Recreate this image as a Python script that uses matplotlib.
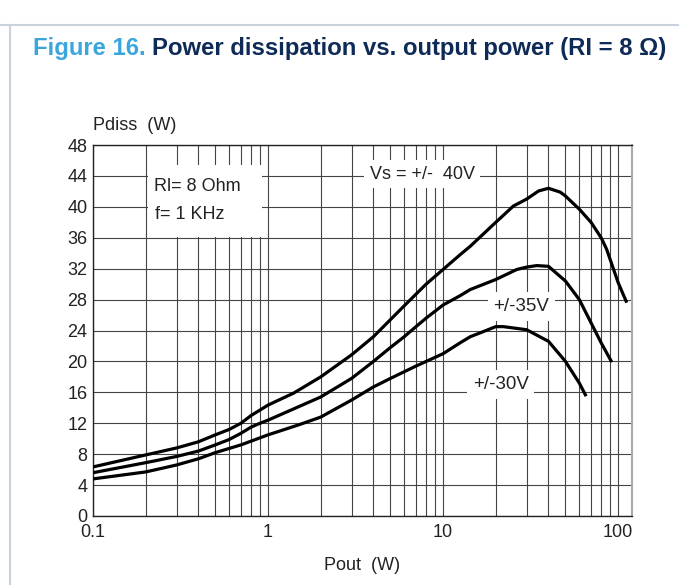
import numpy as np
import matplotlib.pyplot as plt
from matplotlib.patches import Rectangle
from matplotlib.lines import Line2D

# curves: Pout (W) -> Pdiss (W)
pout_40 = [0.1, 0.2, 0.3, 0.4, 0.5, 0.6, 0.7, 0.8, 1, 1.4, 2, 3, 4, 5, 6, 7, 8, 10,
           12.5, 14.3, 20, 25.2, 30, 35.1, 40, 46.7, 50, 60, 70, 80, 86, 90, 100, 112]
pdiss_40 = [6.35, 7.9, 8.8, 9.6, 10.5, 11.2, 12.0, 13.0, 14.35, 15.9, 18.0, 20.85, 23.2, 25.4,
            27.2, 28.7, 30.0, 31.9, 33.8, 34.9, 38.0, 40.1, 41.0, 42.05, 42.4, 41.9, 41.4,
            39.7, 38.0, 36.0, 34.5, 33.2, 30.2, 27.6]

pout_35 = [0.1, 0.2, 0.3, 0.4, 0.5, 0.6, 0.7, 0.8, 0.9, 1, 2, 3, 4, 5, 6, 7, 8, 10,
           12.5, 14.3, 20, 26.4, 30, 34.3, 40, 50, 60, 70, 80, 92]
pdiss_35 = [5.6, 6.9, 7.7, 8.4, 9.2, 9.9, 10.7, 11.5, 12.0, 12.4, 15.4, 17.8, 20.0, 21.8,
            23.2, 24.5, 25.6, 27.3, 28.5, 29.3, 30.6, 31.9, 32.2, 32.4, 32.3, 30.4, 28.0,
            25.0, 22.4, 19.9]

pout_30 = [0.1, 0.2, 0.3, 0.4, 0.5, 0.7, 1, 1.5, 2, 3, 4, 5, 7, 10, 12.5, 14.3, 16.3,
           20, 22.1, 30, 40, 50, 60, 65.6]
pdiss_30 = [4.8, 5.7, 6.6, 7.4, 8.2, 9.2, 10.5, 11.8, 12.8, 15.0, 16.7, 17.8, 19.4, 21.0,
            22.4, 23.2, 23.7, 24.5, 24.5, 24.1, 22.6, 20.0, 17.2, 15.5]

y_ticks = list(range(0, 49, 4))
x_ticks = [0.1, 1, 10, 100]
x_labels = ["0.1", "1", "10", "100"]

plt.rcParams['font.family'] = ['Liberation Sans', 'DejaVu Sans']

fig = plt.figure(figsize=(6.79, 5.85), dpi=100)

# page decoration: thin rule on top and on the left
fig.add_artist(Line2D([0, 1], [1 - 25/585, 1 - 25/585], color='#c9d1da', lw=1.5))
fig.add_artist(Line2D([10/679, 10/679], [0, 1 - 25/585], color='#c9d1da', lw=1.5))

t1 = fig.text(33/679, 1 - 48.5/585, "Figure 16. ", color='#3aa6dc', fontsize=17.2,
              fontweight='bold', va='center', ha='left')
fig.canvas.draw()
bb = t1.get_window_extent()
fig.text(bb.x1/679, 1 - 48.5/585, "Power dissipation vs. output power (RI = 8 \u03a9)",
         color='#0e2a56', fontsize=17.2, fontweight='bold', va='center', ha='left')

ax = fig.add_axes([93/679, 69/585, 539/679, 371/585])
ax.set_xscale('log')
ax.set_xlim(0.1, 120)
ax.set_ylim(0, 48)

ax.grid(True, which='both', axis='x', color='#444444', lw=0.8)
ax.grid(True, which='major', axis='y', color='#444444', lw=0.8)
ax.set_axisbelow(True)

ax.set_yticks(y_ticks)
ax.set_xticks(x_ticks)
ax.set_xticklabels(x_labels)
ax.tick_params(axis='both', which='both', length=0, labelsize=13, colors='#222222', pad=4)
ax.tick_params(axis='x', pad=6)
for s in ['left', 'bottom', 'top']:
    ax.spines[s].set_color('#222222')
    ax.spines[s].set_linewidth(1.0)
ax.spines['right'].set_color('#aaaaaa')
ax.spines['right'].set_linewidth(1.5)

for px, py in [(pout_40, pdiss_40), (pout_35, pdiss_35), (pout_30, pdiss_30)]:
    ax.plot(px, py, color='black', lw=2.3, solid_capstyle='butt', solid_joinstyle='round',
            zorder=4)

# white label box for the test conditions
ax.add_patch(Rectangle((0.205, 36.15), 0.92 - 0.205, 45.4 - 36.15, facecolor='white',
                       edgecolor='none', zorder=2))
ax.text(0.222, 42.6, "Rl= 8 Ohm", fontsize=13, color='#222222', va='center', zorder=3)
ax.text(0.226, 39.0, "f= 1 KHz", fontsize=13, color='#222222', va='center', zorder=3)

box = dict(facecolor='white', edgecolor='none', pad=4)
ax.text(7.6, 44.2, "Vs = +/-  40V", fontsize=13, color='#222222', ha='center', va='center',
        bbox=box, zorder=3)
ax.text(27.9, 27.1, "+/-35V", fontsize=13.5, color='#222222', ha='center', va='center',
        bbox=box, zorder=3)
ax.text(21.4, 17.0, "+/-30V", fontsize=13.5, color='#222222', ha='center', va='center',
        bbox=box, zorder=3)

fig.text(93/679, 1 - 125/585, "Pdiss  (W)", fontsize=13, color='#222222', va='center', ha='left')
fig.text(362/679, 1 - 565/585, "Pout  (W)", fontsize=13, color='#222222', va='center', ha='center')

fig.savefig("out.png", dpi=100)
